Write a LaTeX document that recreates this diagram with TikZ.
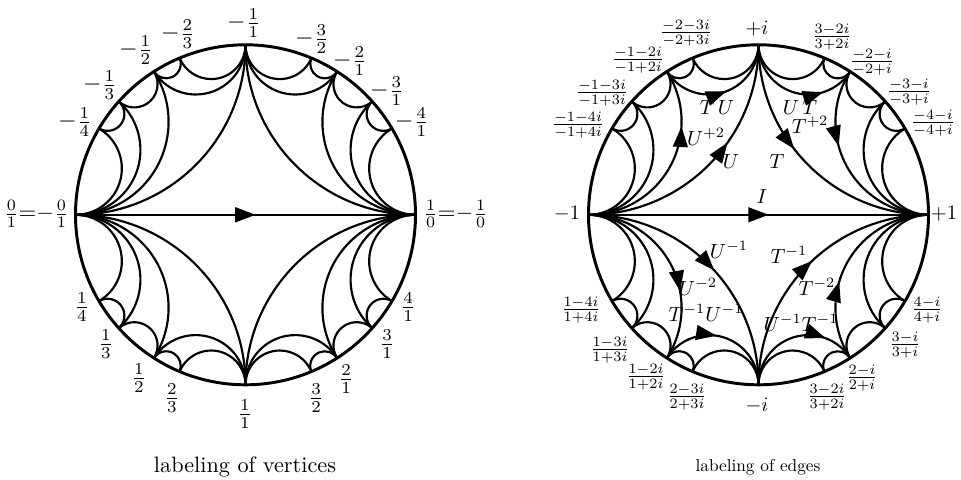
\documentclass[tikz,border=0pt]{standalone}
\usetikzlibrary{decorations.markings,arrows.meta}
\def\setang#1#2{\expandafter\def\csname vang-#1\endcsname{#2}}
\setang{p0}{180}\setang{pinf}{0}\setang{pinfB}{360}\setang{p1}{270}
\setang{p14}{210.5}\setang{p13}{221.8}\setang{p12}{237.4}\setang{p23}{247.2}
\setang{p32}{292.8}\setang{p2}{302.6}\setang{p3}{318.2}\setang{p4}{329.5}
\setang{m1}{90}
\setang{m14}{149.5}\setang{m13}{138.2}\setang{m12}{122.6}\setang{m23}{112.8}
\setang{m32}{67.2}\setang{m2}{57.4}\setang{m3}{41.8}\setang{m4}{30.5}
\def\R{74.8}
\newcommand\geo[4][]{%
 \pgfmathsetmacro\geoA{\csname vang-#3\endcsname}%
 \pgfmathsetmacro\geoB{\csname vang-#4\endcsname}%
 \pgfmathsetmacro\georad{\R*tan((\geoB-\geoA)/2)}%
 \pgfmathsetmacro\geosa{\geoA-90}%
 \pgfmathsetmacro\geoea{\geoB-270}%
 \draw[geod,#1] (#2-#3) arc[start angle=\geosa, end angle=\geoea, radius=\georad pt];}
\tikzset{
 geod/.style={line width=0.95pt},
 rim/.style={line width=1.3pt},
 tri/.tip={Triangle[length=9pt,width=6.5pt]},
 fwd/.style={postaction={decorate},decoration={markings,mark=at position #1 with {\arrow{tri}}}},
 bwd/.style={postaction={decorate},decoration={markings,mark=at position #1 with {\arrowreversed{tri}}}},
 vlab/.style={inner sep=0pt, scale=1.05},
 hlab/.style={inner sep=0pt, scale=1.0},
 wlab/.style={inner sep=0pt, scale=0.9},
 elab/.style={inner sep=0pt, scale=0.9},
}
\begin{document}
\begin{tikzpicture}[x=0.44pt,y=-0.44pt]
\useasboundingbox (0,0) rectangle (961,480);
% ---------------- left disk ----------------
\begin{scope}[shift={(245.5,214.8)}]
\foreach \n in {p0,pinf,p1,p12,p2,p13,p23,p32,p3,p14,p4,m1,m12,m2,m13,m23,m32,m3,m14,m4}
  \coordinate (A-\n) at ({\csname vang-\n\endcsname}:\R pt);
\draw[rim] (0,0) circle[radius=\R pt];
\foreach \a/\b in {p0/p14,p0/p13,p0/p12,p0/p1,p14/p13,p13/p12,p12/p23,p23/p1,p12/p1,p1/p32,p1/p2,p32/p2,p2/p3,p3/p4,p1/pinfB,p2/pinfB,p3/pinfB,p4/pinfB,
  m14/p0,m13/p0,m12/p0,m1/p0,m13/m14,m12/m13,m23/m12,m1/m23,m1/m12,m32/m1,m2/m1,m2/m32,m3/m2,m4/m3,pinf/m1,pinf/m2,pinf/m3,pinf/m4}
  {\geo{A}{\a}{\b}}
\draw[geod,fwd=0.53] (A-p0) -- (A-pinf);
\end{scope}
\node[vlab] (A-lm11) at (244,23) {$-\frac{1}{1}$};
\node[vlab] (A-lm23) at (178,34) {$-\frac{2}{3}$};
\node[vlab] (A-lm12) at (136,50) {$-\frac{1}{2}$};
\node[vlab] (A-lm13) at (100,85) {$-\frac{1}{3}$};
\node[vlab] (A-lm14) at (75,122) {$-\frac{1}{4}$};
\node[vlab] (A-lm32) at (312,39) {$-\frac{3}{2}$};
\node[vlab] (A-lm21) at (350,61) {$-\frac{2}{1}$};
\node[vlab] (A-lm31) at (387,91) {$-\frac{3}{1}$};
\node[vlab] (A-lm41) at (412,122) {$-\frac{4}{1}$};
\node[hlab,anchor=east] (A-l01) at (69,214) {$\frac{0}{1}{=}{-}\frac{0}{1}$};
\node[hlab,anchor=west] (A-l10) at (423,214) {$\frac{1}{0}{=}{-}\frac{1}{0}$};
\node[vlab] (A-l14) at (82,307) {$\frac{1}{4}$};
\node[vlab] (A-l13) at (106,344) {$\frac{1}{3}$};
\node[vlab] (A-l12) at (139,378) {$\frac{1}{2}$};
\node[vlab] (A-l23) at (172,398) {$\frac{2}{3}$};
\node[vlab] (A-l11) at (245,414) {$\frac{1}{1}$};
\node[vlab] (A-l32) at (316,398) {$\frac{3}{2}$};
\node[vlab] (A-l21) at (346,379) {$\frac{2}{1}$};
\node[vlab] (A-l31) at (387,344) {$\frac{3}{1}$};
\node[vlab] (A-l41) at (408,307) {$\frac{4}{1}$};
\node[inner sep=0pt,scale=0.98] (A-cap) at (245,467) {labeling of vertices};
% ---------------- right disk ----------------
\begin{scope}[shift={(758.5,214.8)}]
\foreach \n in {p0,pinf,p1,p12,p2,p13,p23,p32,p3,p14,p4,m1,m12,m2,m13,m23,m32,m3,m14,m4}
  \coordinate (B-\n) at ({\csname vang-\n\endcsname}:\R pt);
\draw[rim] (0,0) circle[radius=\R pt];
\foreach \a/\b in {p0/p14,p0/p13,p14/p13,p13/p12,p12/p23,p23/p1,p1/p32,p32/p2,p2/p3,p3/p4,p3/pinfB,p4/pinfB,
  m14/p0,m13/p0,m13/m14,m12/m13,m23/m12,m1/m23,m32/m1,m2/m32,m3/m2,m4/m3,pinf/m3,pinf/m4}
  {\geo{B}{\a}{\b}}
\geo[bwd=0.39]{B}{m1}{p0}
\geo[bwd=0.58]{B}{pinf}{m1}
\geo[bwd=0.29]{B}{m12}{p0}
\geo[bwd=0.47]{B}{m1}{m12}
\geo[bwd=0.27]{B}{m2}{m1}
\geo[bwd=0.61]{B}{pinf}{m2}
\geo[fwd=0.53]{B}{p0}{p1}
\geo[fwd=0.65]{B}{p0}{p12}
\geo[fwd=0.45]{B}{p12}{p1}
\geo[fwd=0.52]{B}{p1}{pinfB}
\geo[fwd=0.40]{B}{p2}{pinfB}
\geo[fwd=0.75]{B}{p1}{p2}
\draw[geod,fwd=0.53] (B-p0) -- (B-pinf);
\end{scope}
\node[wlab] (B-li) at (757,29) {$+i$};
\node[wlab] (B-lm23) at (686,33) {$\frac{-2-3i}{-2+3i}$};
\node[wlab] (B-lm12) at (638,60) {$\frac{-1-2i}{-1+2i}$};
\node[wlab] (B-lm13) at (602,93) {$\frac{-1-3i}{-1+3i}$};
\node[wlab] (B-lm14) at (578,125) {$\frac{-1-4i}{-1+4i}$};
\node[wlab] (B-lm32) at (832,37) {$\frac{3-2i}{3+2i}$};
\node[wlab] (B-lm21) at (872,62) {$\frac{-2-i}{-2+i}$};
\node[wlab] (B-lm31) at (909,92) {$\frac{-3-i}{-3+i}$};
\node[wlab] (B-lm41) at (933,123) {$\frac{-4-i}{-4+i}$};
\node[wlab] (B-lneg1) at (567,214) {$-1$};
\node[wlab] (B-lpos1) at (944,214) {$+1$};
\node[wlab] (B-lmi) at (757,406) {$-i$};
\node[wlab] (B-l14) at (581,310) {$\frac{1-4i}{1+4i}$};
\node[wlab] (B-l13) at (610,350) {$\frac{1-3i}{1+3i}$};
\node[wlab] (B-l12) at (646,377) {$\frac{1-2i}{1+2i}$};
\node[wlab] (B-l23) at (687,397) {$\frac{2-3i}{2+3i}$};
\node[wlab] (B-l32) at (827,397) {$\frac{3-2i}{3+2i}$};
\node[wlab] (B-l21) at (862,378) {$\frac{2-i}{2+i}$};
\node[wlab] (B-l31) at (905,345) {$\frac{3-i}{3+i}$};
\node[wlab] (B-l41) at (927,310) {$\frac{4-i}{4+i}$};
\node[elab] (B-eI) at (762,197) {$I$};
\node[elab] (B-eTU) at (717,108) {$T\,U$};
\node[elab] (B-eUT) at (800,108) {$U\,T$};
\node[elab] (B-eT2) at (810,125) {$T^{+2}$};
\node[elab] (B-eU2) at (706,137) {$U^{+2}$};
\node[elab] (B-eU) at (731,162) {$U$};
\node[elab] (B-eT) at (777,162) {$T$};
\node[elab] (B-eUm1) at (729,250) {$U^{-1}$};
\node[elab] (B-eTm1) at (789,255) {$T^{-1}$};
\node[elab] (B-eUm2) at (698,287) {$U^{-2}$};
\node[elab] (B-eTm2) at (817,287) {$T^{-2}$};
\node[elab] (B-eTU1) at (706,313) {$T^{-1}U^{-1}$};
\node[elab] (B-eUT1) at (801,323) {$U^{-1}T^{-1}$};
\node[inner sep=0pt,scale=0.76] (B-cap) at (758,467) {labeling of edges};
\end{tikzpicture}
\end{document}
